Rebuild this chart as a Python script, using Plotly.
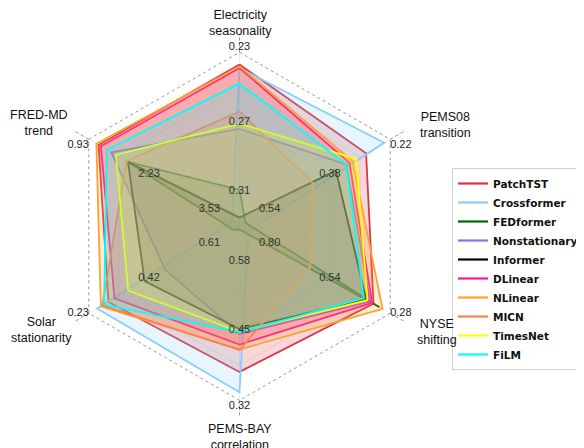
import plotly.graph_objects as go

# ---------------- data ----------------
axes = ["Electricity", "PEMS08", "NYSE", "PEMS-BAY", "Solar", "FRED-MD"]
axis_titles = ["Electricity<br>seasonality", "PEMS08<br>transition", "NYSE<br>shifting",
               "PEMS-BAY<br>correlation", "Solar<br>stationarity", "FRED-MD<br>trend"]
# tick labels of each axis: outer (best), middle, inner
tick_outer = [0.23, 0.22, 0.28, 0.32, 0.23, 0.93]
tick_mid = [0.27, 0.38, 0.54, 0.45, 0.42, 2.23]
tick_inner = [0.31, 0.54, 0.80, 0.58, 0.61, 3.53]

models = ["PatchTST", "Crossformer", "FEDformer", "Nonstationary", "Informer",
          "DLinear", "NLinear", "MICN", "TimesNet", "FiLM"]
colors = ["#DC3545", "#87CEFA", "#006400", "#9370DB", "#000000",
          "#FF1493", "#FFA030", "#FF7F50", "#FFFF00", "#00FFFF"]

# values per axis (Electricity, PEMS08, NYSE, PEMS-BAY, Solar, FRED-MD)
patchtst = [0.237, 0.284, 0.352, 0.373, 0.292, 1.141]
crossformer = [0.239, 0.236, 0.891, 0.335, 0.256, 4.018]
fedformer = [0.309, 0.604, 0.326, 0.639, 0.686, 1.775]
nonstationary = [0.274, 0.336, 0.367, 0.444, 0.470, 1.418]
informer = [0.325, 0.364, 0.384, 0.453, 0.406, 1.775]
dlinear = [0.239, 0.328, 0.358, 0.424, 0.311, 1.190]
nlinear = [0.238, 0.320, 0.313, 0.415, 0.268, 1.093]
micn = [0.264, 0.424, 0.625, 0.414, 0.273, 1.743]
timesnet = [0.271, 0.310, 0.378, 0.448, 0.354, 1.515]
film = [0.248, 0.336, 0.394, 0.447, 0.278, 1.320]

series = [patchtst, crossformer, fedformer, nonstationary, informer,
          dlinear, nlinear, micn, timesnet, film]

# radial positions of the tick rings
R_OUTER, R_MID, R_INNER = 1.0, 0.6, 0.2


def to_r(vals):
    out = []
    for v, o, i in zip(vals, tick_outer, tick_inner):
        out.append(R_OUTER - (R_OUTER - R_INNER) * (v - o) / (i - o))
    return out


def rgba(hexc, a):
    h = hexc.lstrip("#")
    return "rgba(%d,%d,%d,%.2f)" % (int(h[0:2], 16), int(h[2:4], 16), int(h[4:6], 16), a)


fig = go.Figure()
closed_theta = axes + [axes[0]]

# outer dotted hexagon
fig.add_trace(go.Scatterpolar(r=[R_OUTER] * 7, theta=closed_theta, mode="lines",
                              line=dict(color="#999999", width=1, dash="dot"),
                              hoverinfo="skip", showlegend=False))
# spoke extensions
for ax in axes:
    fig.add_trace(go.Scatterpolar(r=[R_OUTER, 1.1], theta=[ax, ax], mode="lines",
                                  line=dict(color="#999999", width=1, dash="dot"),
                                  hoverinfo="skip", showlegend=False, cliponaxis=False))

# model polygons
for name, col, vals in zip(models, colors, series):
    r = to_r(vals)
    fig.add_trace(go.Scatterpolar(r=r + [r[0]], theta=closed_theta, mode="lines",
                                  fill="toself", fillcolor=rgba(col, 0.2),
                                  line=dict(color=col, width=1.8),
                                  name=name, showlegend=False))
# legend entries (lines only)
for name, col in zip(models, colors):
    fig.add_trace(go.Scatterpolar(r=[None], theta=[None], mode="lines",
                                  line=dict(color=col, width=2.2), name=name,
                                  showlegend=True))

# tick value labels
fmt = lambda v: "%.2f" % v
outer_pos = ["top center", "bottom right", "middle right", "bottom center", "middle left", "bottom left"]
fig.add_trace(go.Scatterpolar(r=[R_OUTER] * 6, theta=axes, mode="text",
                              text=[fmt(v) for v in tick_outer], textposition=outer_pos,
                              textfont=dict(size=11, color="#222222"),
                              hoverinfo="skip", showlegend=False, cliponaxis=False))
fig.add_trace(go.Scatterpolar(r=[R_MID] * 6, theta=axes, mode="text",
                              text=[fmt(v) for v in tick_mid], textposition="middle center",
                              textfont=dict(size=11, color="#333333"),
                              hoverinfo="skip", showlegend=False))
fig.add_trace(go.Scatterpolar(r=[R_INNER] * 6, theta=axes, mode="text",
                              text=[fmt(v) for v in tick_inner], textposition="middle center",
                              textfont=dict(size=11, color="#333333"),
                              hoverinfo="skip", showlegend=False))

# page offset (default body margin of the html page)
OFF = 8
W, H = 584 - OFF, 448 - OFF

# axis titles (positions in page pixels)
title_xy = [(240, 23), (445, 125), (437, 331.5), (240, 437), (41, 330), (39, 123.5)]
for txt, (px, py) in zip(axis_titles, title_xy):
    fig.add_annotation(text=txt, x=(px - OFF) / W, y=1 - (py - OFF) / H,
                       xref="paper", yref="paper",
                       showarrow=False, xanchor="center", yanchor="middle",
                       align="center", font=dict(size=12.5, color="#111111"))

cx, cy, Rpx = 239.5 - OFF, 226.3 - OFF, 174 * 1.1
fig.update_layout(
    width=W, height=H,
    margin=dict(l=0, r=0, t=0, b=0),
    paper_bgcolor="white",
    font=dict(family="Liberation Sans, Arial, sans-serif", color="#222222"),
    polar=dict(
        domain=dict(x=[(cx - Rpx) / W, (cx + Rpx) / W],
                    y=[(H - cy - Rpx) / H, (H - cy + Rpx) / H]),
        bgcolor="white",
        gridshape="linear",
        radialaxis=dict(range=[0, 1.1], tickvals=[0.2, 0.4, 0.6, 0.8], showticklabels=False,
                        ticks="", showline=False, gridcolor="rgba(0,0,0,0.07)"),
        angularaxis=dict(type="category", categoryarray=axes, rotation=90,
                         direction="clockwise", showticklabels=False, ticks="",
                         showline=False, gridcolor="rgba(0,0,0,0.07)"),
    ),
    legend=dict(x=1, xanchor="right", y=1 - (269 - OFF) / H, yanchor="middle",
                bordercolor="#d0d0d0", borderwidth=1, bgcolor="white",
                font=dict(family="DejaVu Sans", size=10.5, color="#111111", weight="bold"),
                tracegroupgap=0),
    showlegend=True,
)

fig.write_html("out.html")
